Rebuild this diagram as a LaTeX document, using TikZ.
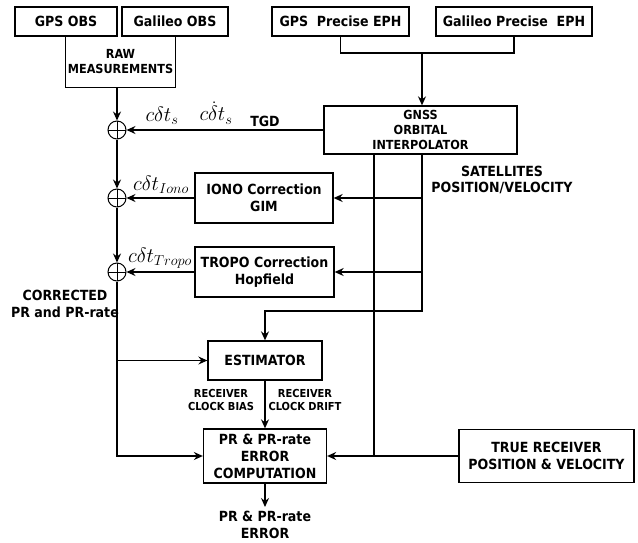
\documentclass[tikz,border=0pt]{standalone}
\usepackage{fontspec}
\setmainfont{DejaVu Sans Condensed}
\usetikzlibrary{positioning,arrows.meta}
\tikzset{
  blk/.style={draw=black, line width=1.3pt, align=center, inner sep=1pt, font=\bfseries\fontsize{14}{17}\selectfont},
  sml/.style={align=center, inner sep=0pt, font=\bfseries\fontsize{12.5}{15}\selectfont},
  lbl/.style={align=center, inner sep=0pt, font=\bfseries\fontsize{14}{16.5}\selectfont},
  tiny/.style={align=center, inner sep=0pt, font=\bfseries\fontsize{11}{13.5}\selectfont},
  adder/.style={draw, circle, line width=1pt, minimum size=18pt, inner sep=0pt,
    path picture={\draw[line width=1pt] (path picture bounding box.north) -- (path picture bounding box.south)
      (path picture bounding box.west) -- (path picture bounding box.east);}},
  wire/.style={line width=1.3pt},
  arr/.style={wire, -{Stealth[length=9pt,width=8pt,inset=3pt]}},
  mlab/.style={inner sep=0pt, font=\fontsize{20.74}{21}\selectfont}
}
\begin{document}
\begin{tikzpicture}[x=1pt,y=-1pt]
  \useasboundingbox (0,0) rectangle (638,542);
  % sources
  \node[blk, minimum width=102pt, minimum height=29pt] (gpsobs) at (66,21.5) {GPS OBS};
  \node[blk, minimum width=106pt, minimum height=29pt] (galobs) at (175,21.5) {Galileo OBS};
  \node[sml, minimum width=109pt, minimum height=50pt] (raw) at (120.5,62) {RAW\\MEASUREMENTS};
  \draw[wire] (raw.north west) |- (raw.south east) -- (raw.north east);
  \node[blk, minimum width=137pt, minimum height=29pt] (gpseph) at (340.5,21.5) {GPS\ \ Precise EPH};
  \node[blk, minimum width=156pt, minimum height=29pt] (galeph) at (514,21.5) {Galileo Precise\ \ EPH};
  \node[sml, draw, line width=1.3pt, minimum width=193pt, minimum height=48pt] (gnss) at (420.5,130) {GNSS\\ORBITAL\\INTERPOLATOR};
  % corrections
  \node[blk, minimum width=138pt, minimum height=50pt] (iono) at (264,198) {IONO Correction\\GIM};
  \node[blk, minimum width=139pt, minimum height=50pt] (tropo) at (264.5,272) {TROPO Correction\\Hopfield};
  \node[blk, minimum width=114pt, minimum height=39pt] (estim) at (265,360.5) {ESTIMATOR};
  \node[blk, minimum width=123pt, minimum height=54pt] (prerr) at (265,456) {PR \& PR-rate\\ERROR\\COMPUTATION};
  \node[blk, minimum width=175pt, minimum height=53pt] (truerx) at (546.5,456) {TRUE RECEIVER\\POSITION \& VELOCITY};
  \node[adder] (s1) at (117,130) {};
  \node[adder] (s2) at (117,198) {};
  \node[adder] (s3) at (117,272) {};
  \coordinate (ephjoin) at (422,53);
  \coordinate (satL) at (374,154);
  \coordinate (satR) at (422,154);
  \coordinate (estfeed) at (265,311);
  \coordinate (out) at (265,507);
  % connectors
  \draw[wire] (gpseph.south) |- (ephjoin) -| (galeph.south);
  \draw[arr] (ephjoin) -- (ephjoin |- gnss.north);
  \draw[arr] (raw.south -| s1) -- (s1);
  \draw[arr] (s1) -- (s2);
  \draw[arr] (s2) -- (s3);
  \draw[arr] (gnss) -- (s1);
  \draw[arr] (iono) -- (s2);
  \draw[arr] (tropo) -- (s3);
  \draw[arr] (satR |- iono) -- (iono);
  \draw[arr] (satR |- tropo) -- (tropo);
  \draw[wire] (satL) -- (satL |- truerx);
  \draw[arr] (satR) |- (estfeed) -- (estim);
  \draw[arr] (truerx) -- (prerr);
  \draw[arr] (s3) |- (prerr);
  \draw[arr] (s3 |- estim) -- (estim);
  \draw[arr] (estim) -- (prerr);
  \draw[arr] (prerr) -- (out);
  % labels
  \node[mlab] (dts) at (162,116) {$c\delta t_s$};
  \node[mlab] (ddts) at (216,113) {$c\dot{\delta}t_s$};
  \node[lbl] (tgd) at (265,121) {TGD};
  \node[mlab] (dtiono) at (161,185) {$c\delta t_{Iono}$};
  \node[mlab] (dttropo) at (160,258) {$c\delta t_{Tropo}$};
  \node[lbl] (satpv) at (502,180) {SATELLITES\\POSITION/VELOCITY};
  \node[lbl] (corr) at (65,304) {CORRECTED\\PR and PR-rate};
  \node[tiny] (bias) at (221,400) {RECEIVER\\CLOCK BIAS};
  \node[tiny] (drift) at (305,400) {RECEIVER\\CLOCK DRIFT};
  \node[lbl, anchor=north] (prout) at (265,511) {PR \& PR-rate\\ERROR};
\end{tikzpicture}
\end{document}
